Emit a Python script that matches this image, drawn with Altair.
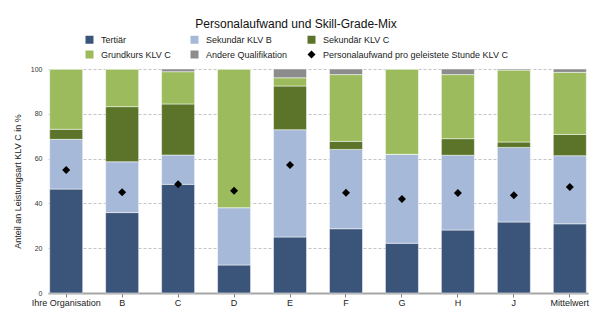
import altair as alt
import pandas as pd

groups = ["Ihre Organisation", "B", "C", "D", "E", "F", "G", "H", "J", "Mittelwert"]
series = ["Tertiär", "Sekundär KLV B", "Sekundär KLV C", "Grundkurs KLV C", "Andere Qualifikation"]
point_series = "Personalaufwand pro geleistete Stunde KLV C"

tertiaer = [46.4, 35.9, 48.5, 12.5, 25.0, 28.7, 22.2, 28.1, 31.7, 30.9]
sekundaer_b = [22.2, 22.7, 13.1, 25.6, 47.9, 35.4, 39.7, 33.4, 33.3, 30.4]
sekundaer_c = [4.5, 24.6, 22.8, 0.0, 19.5, 3.6, 0.0, 7.4, 2.4, 9.5]
grundkurs = [26.9, 16.8, 14.4, 61.9, 3.7, 29.8, 38.1, 28.6, 32.1, 27.7]
andere = [0.0, 0.0, 1.2, 0.0, 3.9, 2.5, 0.0, 2.5, 0.5, 1.5]
personalaufwand = [54.9, 45.0, 48.5, 45.7, 57.1, 44.8, 42.0, 44.6, 43.6, 47.3]

colors = ["#3b5479", "#a6b9d8", "#5b7429", "#9bbb5d", "#8c8c8c"]
point_color = "#000000"

values = [tertiaer, sekundaer_b, sekundaer_c, grundkurs, andere]
rows = []
for i, s in enumerate(series):
    for g, v in zip(groups, values[i]):
        rows.append({"group": g, "cat": s, "value": v, "order": i})
bars_df = pd.DataFrame(rows)
pts_df = pd.DataFrame({"group": groups, "cat": point_series, "value": personalaufwand})

legend_domain = series + [point_series]
color_scale = alt.Scale(domain=legend_domain, range=colors + [point_color])
shape_scale = alt.Scale(domain=legend_domain, range=["square"] * 5 + ["diamond"])


def make_legend():
    return alt.Legend(
        title=None, orient="none", legendX=37, legendY=-34, columns=3,
        direction="horizontal",
        symbolSize=64, labelFontSize=9, columnPadding=19, rowPadding=5,
        labelOffset=7, symbolStrokeWidth=0, symbolOpacity=1, labelLimit=400,
        labelColor="#222222", labelFont="Liberation Sans",
    )


x_enc = alt.X(
    "group:N", sort=groups,
    scale=alt.Scale(paddingInner=0.41, paddingOuter=0.03),
    axis=alt.Axis(
        title=None, labelAngle=0, labelFontSize=9, labelColor="#222222",
        domainColor="#a6a6a6", domainWidth=2, tickColor="#7f7f7f", tickSize=4,
        labelPadding=1, grid=False,
    ),
)

y_enc = alt.Y(
    "value:Q", stack="zero",
    scale=alt.Scale(domain=[0, 100], nice=False),
    axis=alt.Axis(
        title="Anteil an Leistungsart KLV C in %", values=[0, 20, 40, 60, 80, 100],
        grid=True, gridDash=[3, 2], gridColor="#c4c4c4", domain=False, ticks=False,
        labelFontSize=7, labelPadding=6, labelColor="#333333",
        titleFontSize=9, titleFontWeight="normal", titlePadding=8, titleColor="#222222",
    ),
)

bars = alt.Chart(bars_df).mark_bar(stroke="white", strokeWidth=0.5).encode(
    x=x_enc,
    y=y_enc,
    color=alt.Color("cat:N", scale=color_scale, legend=make_legend()),
    order=alt.Order("order:Q", sort="ascending"),
)

points = alt.Chart(pts_df).mark_point(filled=True, size=64, opacity=1).encode(
    x=alt.X("group:N", sort=groups),
    y=alt.Y("value:Q"),
    color=alt.Color("cat:N", scale=color_scale, legend=make_legend()),
    shape=alt.Shape("cat:N", scale=shape_scale, legend=make_legend()),
)

chart = alt.layer(bars, points).properties(
    width=540, height=224,
    title=alt.TitleParams(
        "Personalaufwand und Skill-Grade-Mix", fontSize=12, fontWeight="normal",
        anchor="middle", dx=-22, color="#111111", font="Liberation Sans",
    ),
    autosize=alt.AutoSizeParams(type="none"),
    padding={"left": 48, "top": 69, "right": 12, "bottom": 34},
).configure(
    font="Liberation Sans",
).configure_view(stroke=None).configure_axis(
    labelFont="Liberation Sans", titleFont="Liberation Sans",
)

chart.save("out.html", embed_options={"renderer": "svg", "actions": False})
